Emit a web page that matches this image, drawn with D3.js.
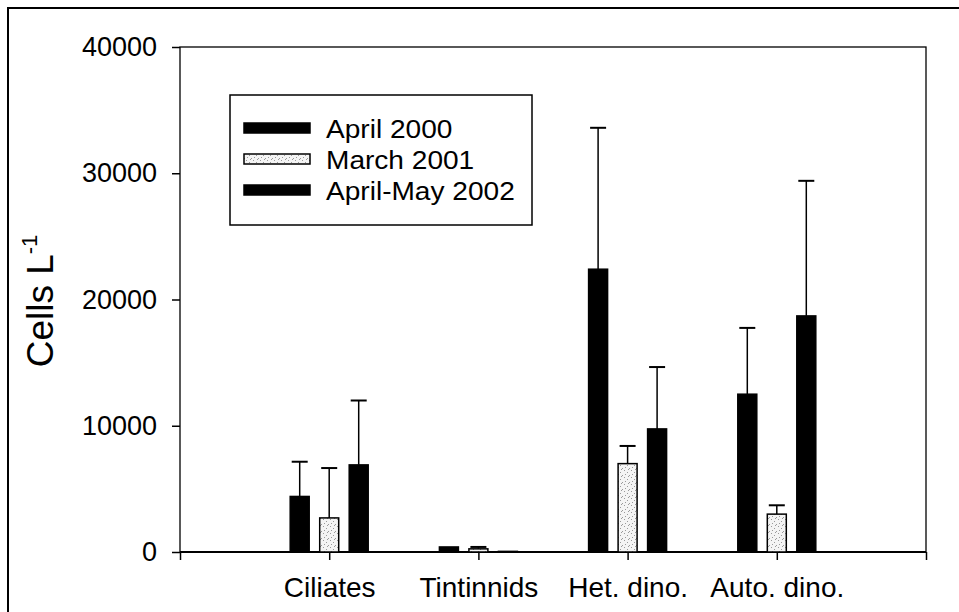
<!DOCTYPE html>
<html>
<head>
<meta charset="utf-8">
<script src="https://cdn.jsdelivr.net/npm/d3@7"></script>
<style>
  body { margin: 0; background: #fff; }
  svg { display: block; font-family: "Liberation Sans", Arial, sans-serif; }
</style>
</head>
<body>
<div id="chart"></div>
<script>
// data
var categories = ["Ciliates", "Tintinnids", "Het. dino.", "Auto. dino."];
var seriesNames = ["April 2000", "March 2001", "April-May 2002"];
var april2000 = [4400, 400, 22400, 12500];
var april2000Err = [2750, 0, 11200, 5250];
var march2001 = [2700, 250, 7000, 3000];
var march2001Err = [3950, 150, 1400, 700];
var aprilMay2002 = [6900, 50, 9750, 18700];
var aprilMay2002Err = [5100, 0, 4900, 10700];
var yTicks = [0, 10000, 20000, 30000, 40000];

(function () {
    var width = 959, height = 612;
    var pLeft = 180, pRight = 926, pTop = 47, pBottom = 552;

    var svg = d3.select('#chart')
        .append('svg')
        .attr('width', width)
        .attr('height', height);

    // stipple pattern for the March 2001 bars
    var pat = svg.append('defs').append('pattern')
        .attr('id', 'stipple')
        .attr('patternUnits', 'userSpaceOnUse')
        .attr('width', 7)
        .attr('height', 7);
    pat.append('rect').attr('width', 7).attr('height', 7).attr('fill', '#f4f4f4');
    [[1, 1], [4, 3], [2, 5], [6, 6], [5, 0]].forEach(function (p) {
        pat.append('rect')
            .attr('x', p[0]).attr('y', p[1])
            .attr('width', 1).attr('height', 1)
            .attr('fill', '#9a9a9a');
    });

    // outer frame (runs off the right and bottom)
    svg.append('rect')
        .attr('x', 8).attr('y', 8)
        .attr('width', 1000).attr('height', 700)
        .attr('fill', 'none')
        .attr('stroke', '#000')
        .attr('stroke-width', 2);

    var x = d3.scaleLinear().domain([0, 5]).range([pLeft, pRight]);
    var y = d3.scaleLinear().domain([0, 40000]).range([pBottom, pTop]);
    var sub = d3.scaleBand().domain(seriesNames).range([-39, 39]).paddingInner(0.356);

    var series = [
        { name: seriesNames[0], values: april2000, err: april2000Err, fill: '#000' },
        { name: seriesNames[1], values: march2001, err: march2001Err, fill: 'url(#stipple)' },
        { name: seriesNames[2], values: aprilMay2002, err: aprilMay2002Err, fill: '#000' }
    ];

    // plot box
    svg.append('rect')
        .attr('x', pLeft).attr('y', pTop)
        .attr('width', pRight - pLeft).attr('height', pBottom - pTop)
        .attr('fill', 'none')
        .attr('stroke', '#000')
        .attr('stroke-width', 1.3);

    // axes
    var yAxis = svg.append('g')
        .attr('transform', 'translate(' + pLeft + ',0)')
        .call(d3.axisLeft(y).tickValues(yTicks).tickFormat(d3.format('d')).tickSize(8).tickPadding(15));
    yAxis.select('.domain').remove();
    yAxis.selectAll('line').attr('stroke-width', 1.5);
    yAxis.selectAll('text').attr('font-size', 27).attr('font-family', '"Liberation Sans", Arial, sans-serif').attr('fill', '#000');

    var xAxis = svg.append('g')
        .attr('transform', 'translate(0,' + pBottom + ')')
        .call(d3.axisBottom(x).tickValues([0, 1, 2, 3, 4, 5])
            .tickFormat(function (d) { return categories[d - 1] || ''; })
            .tickSize(8).tickPadding(17));
    xAxis.select('.domain').remove();
    xAxis.selectAll('line').attr('stroke-width', 1.5);
    xAxis.selectAll('text').attr('font-size', 28).attr('font-family', '"Liberation Sans", Arial, sans-serif').attr('fill', '#000');
    svg.append('line')
        .attr('x1', pLeft).attr('x2', pRight)
        .attr('y1', pBottom).attr('y2', pBottom)
        .attr('stroke', '#000')
        .attr('stroke-width', 2);

    // bars and error bars
    var rows = [];
    series.forEach(function (s) {
        categories.forEach(function (c, i) {
            rows.push({ series: s, cat: i + 1, v: s.values[i], e: s.err[i] });
        });
    });
    var cx = function (d) { return x(d.cat) + sub(d.series.name) + sub.bandwidth() / 2; };

    svg.selectAll('line.err')
        .data(rows.filter(function (d) { return d.e > 0; }))
        .enter()
        .append('line')
        .attr('class', 'err')
        .attr('x1', cx)
        .attr('x2', cx)
        .attr('y1', function (d) { return y(d.v); })
        .attr('y2', function (d) { return y(d.v + d.e); })
        .attr('stroke', '#000')
        .attr('stroke-width', 1.5);

    svg.selectAll('line.cap')
        .data(rows.filter(function (d) { return d.e > 0; }))
        .enter()
        .append('line')
        .attr('class', 'cap')
        .attr('x1', function (d) { return cx(d) - 8; })
        .attr('x2', function (d) { return cx(d) + 8; })
        .attr('y1', function (d) { return y(d.v + d.e); })
        .attr('y2', function (d) { return y(d.v + d.e); })
        .attr('stroke', '#000')
        .attr('stroke-width', 2);

    svg.selectAll('rect.bar')
        .data(rows)
        .enter()
        .append('rect')
        .attr('class', 'bar')
        .attr('x', function (d) { return x(d.cat) + sub(d.series.name); })
        .attr('y', function (d) { return y(d.v); })
        .attr('width', sub.bandwidth())
        .attr('height', function (d) { return y(0) - y(d.v); })
        .attr('fill', function (d) { return d.series.fill; })
        .attr('stroke', '#000')
        .attr('stroke-width', 1.5);

    // y title
    var yt = svg.append('text')
        .attr('transform', 'translate(53,301) rotate(-90)')
        .attr('text-anchor', 'middle')
        .attr('font-size', 37)
        .attr('fill', '#000');
    yt.append('tspan').text('Cells L');
    yt.append('tspan').attr('font-size', 22).attr('dy', -16).text('-1');

    // legend
    var lg = svg.append('g');
    lg.append('rect')
        .attr('x', 230).attr('y', 95)
        .attr('width', 302).attr('height', 130)
        .attr('fill', '#fff')
        .attr('stroke', '#000')
        .attr('stroke-width', 1.5);
    var rowY = d3.scalePoint().domain(seriesNames).range([128, 190]);
    var items = lg.selectAll('g.item')
        .data(series)
        .enter()
        .append('g')
        .attr('class', 'item')
        .attr('transform', function (d) { return 'translate(0,' + rowY(d.name) + ')'; });
    items.append('rect')
        .attr('x', 244).attr('y', -5)
        .attr('width', 66).attr('height', 10)
        .attr('fill', function (d) { return d.fill; })
        .attr('stroke', '#000')
        .attr('stroke-width', 1.5);
    items.append('text')
        .attr('transform', 'translate(326,10) scale(1.08,1)')
        .attr('font-size', 26)
        .attr('fill', '#000')
        .text(function (d) { return d.name; });
})();
</script>
</body>
</html>
